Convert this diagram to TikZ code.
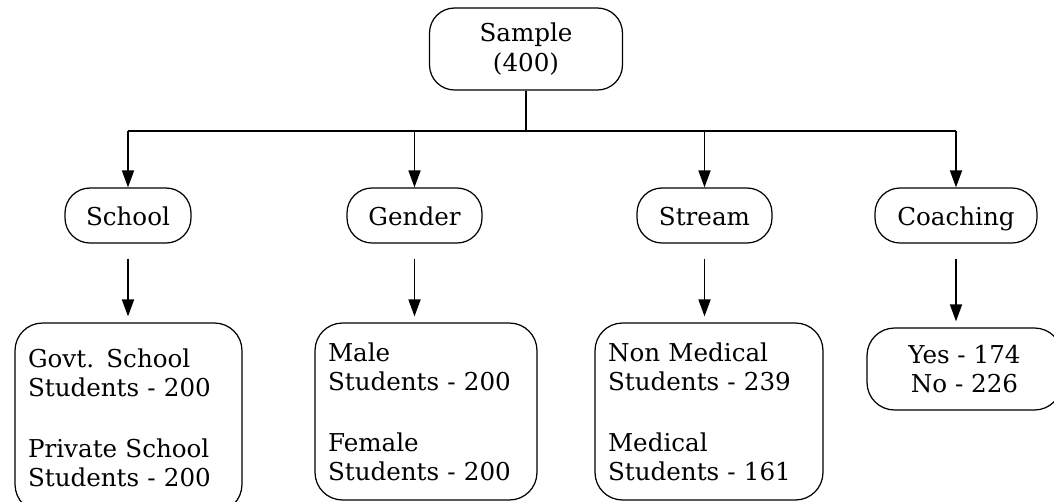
\documentclass[tikz,border=0pt]{standalone}
\usepackage{fontspec}
\setmainfont{DejaVu Serif}
\usetikzlibrary{arrows.meta}

\begin{document}
\begin{tikzpicture}[
    x=0.02cm, y=-0.02cm,
    every node/.style={font=\fontsize{14}{16.6}\selectfont},
    pill/.style={
      draw,
      rounded corners=0.5cm,
      minimum height=1.1cm,
      text height=13pt,
      text depth=2pt,
      inner sep=0pt,
      line width=0.7pt
    },
    detail/.style={
      draw,
      rounded corners=0.55cm,
      align=left,
      inner xsep=0.26cm,
      inner ysep=0pt,
      line width=0.7pt
    },
    arrow/.style={
      -{Triangle[length=0.34cm,width=0.24cm]},
      line width=1pt
    }]

    \useasboundingbox (0,0) rectangle (1054,501);

    % Root box
    \node[draw,rounded corners=0.5cm,minimum width=3.86cm,minimum height=1.64cm,
      align=center,line width=0.7pt] (sample) at (526,49) {Sample\\(400)};

    % Second row: the four criteria
    \node[pill,minimum width=2.52cm] (school) at (128,215.5) {School};
    \node[pill,minimum width=2.7cm] (gender) at (414.5,215.5) {Gender};
    \node[pill,minimum width=2.7cm] (stream) at (704.5,215.5) {Stream};
    \node[pill,minimum width=3.24cm] (coach) at (956,215.5) {Coaching};

    % Third row: counts
    \node[detail,text width=4.02cm,minimum height=3.78cm] (schooldet) at (128.5,417.5) {
      Govt. School\\Students - 200\\[18pt]
      Private School\\Students - 200};
    \node[detail,text width=3.92cm,minimum height=3.54cm] (genderdet) at (426,411.5) {
      Male\\Students - 200\\[18pt]
      Female\\Students - 200};
    \node[detail,text width=4.04cm,minimum height=3.54cm] (streamdet) at (709,411.5) {
      Non Medical\\Students - 239\\[18pt]
      Medical\\Students - 161};
    \node[draw,rounded corners=0.55cm,align=center,minimum width=3.9cm,minimum height=1.64cm,
      line width=0.7pt] (coachdet) at (964.5,369) {Yes - 174\\No - 226};

    % Branching line under the root
    \coordinate (bus) at (526,131);
    \draw[line width=1pt] (sample.south) -- (bus);
    \draw[line width=1pt] (school.north |- bus) -- (coach.north |- bus);
    \foreach \n in {school,gender,stream,coach}
      \draw[arrow] (\n.north |- bus) -- (\n.north);

    % Free-standing arrows down to the counts
    \foreach \n/\m in {school/schooldet,gender/genderdet,stream/streamdet,coach/coachdet}
      \draw[arrow,shorten <=0.3cm,shorten >=0.12cm] (\n.south) -- (\n.south |- \m.north);
  \end{tikzpicture}
\end{document}
